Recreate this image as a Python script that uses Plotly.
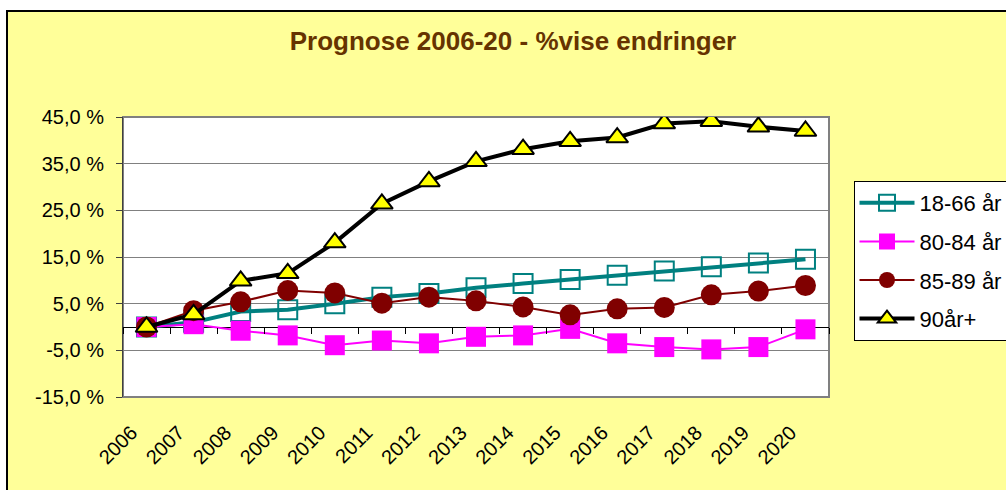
import plotly.graph_objects as go

years = ["2006", "2007", "2008", "2009", "2010", "2011", "2012", "2013",
         "2014", "2015", "2016", "2017", "2018", "2019", "2020"]
s_18_66 = [0.0, 1.0, 3.3, 3.7, 5.0, 6.4, 7.2, 8.4, 9.3, 10.2, 11.1, 12.0, 12.9, 13.7, 14.5]
s_80_84 = [0.0, 0.6, -0.8, -1.8, -3.9, -2.9, -3.5, -2.1, -1.8, -0.4, -3.5, -4.3, -4.8, -4.3, -0.5]
s_85_89 = [0.0, 3.5, 5.4, 7.8, 7.3, 5.1, 6.4, 5.6, 4.3, 2.6, 3.9, 4.2, 6.9, 7.7, 8.9]
s_90 = [0.0, 2.7, 9.9, 11.5, 18.1, 26.4, 31.2, 35.5, 38.1, 39.8, 40.6, 43.6, 44.1, 42.9, 42.0]
names = ["18-66 år", "80-84 år", "85-89 år", "90år+"]
ytick_vals = [-15, -5, 5, 15, 25, 35, 45]
ytick_text = ["-15,0 %", "-5,0 %", "5,0 %", "15,0 %", "25,0 %", "35,0 %", "45,0 %"]
title_text = "Prognose 2006-20 - %vise endringer"

FONT = "Liberation Sans, Arial, sans-serif"

fig = go.Figure()
fig.add_trace(go.Scatter(
    x=years, y=s_18_66, name=names[0], mode="lines+markers",
    line=dict(color="#008080", width=4),
    marker=dict(symbol="square-open", size=19, color="#008080", line=dict(width=2, color="#008080")),
    legendgroup="a"))
fig.add_trace(go.Scatter(
    x=years, y=s_80_84, name=names[1], mode="lines+markers",
    line=dict(color="#FF00FF", width=2),
    marker=dict(symbol="square", size=20, color="#FF00FF"),
    legendgroup="b"))
fig.add_trace(go.Scatter(
    x=years, y=s_85_89, name=names[2], mode="lines+markers",
    line=dict(color="#800000", width=2),
    marker=dict(symbol="circle", size=21, color="#800000"),
    legendgroup="c"))
fig.add_trace(go.Scatter(
    x=years, y=s_90, name=names[3], mode="lines+markers",
    line=dict(color="#000000", width=4),
    marker=dict(symbol="triangle-up", size=19, color="#FFFF00", line=dict(width=2, color="#000000")),
    legendgroup="d"))
# helper trace for category-boundary tick marks on the zero line
fig.add_trace(go.Scatter(x=years, y=[None] * len(years), xaxis="x2", showlegend=False,
                         hoverinfo="skip", mode="lines"))

W, H = 1006, 490
L, R, T, B = 123, 177, 117, 93
pw, ph = W - L - R, H - T - B

def px2x(px):
    return (px - L) / pw

def py2y(py):
    return (H - B - py) / ph

fig.update_layout(
    width=W, height=H,
    margin=dict(l=L, r=R, t=T, b=B, autoexpand=False),
    paper_bgcolor="white", plot_bgcolor="white",
    font=dict(family=FONT, size=20, color="black"),
    title=dict(text="<b>" + title_text + "</b>", x=513 / W, xanchor="center", xref="container",
               y=1 - 41 / H, yanchor="middle", yref="container",
               font=dict(family=FONT, size=26, color="#663300")),
    showlegend=True,
    legend=dict(x=px2x(853.5), y=py2y(181), xanchor="left", yanchor="top",
                bgcolor="white", bordercolor="black", borderwidth=1,
                font=dict(family=FONT, size=22, color="black"),
                itemwidth=55, tracegroupgap=7, traceorder="grouped"),
    xaxis=dict(type="category", categoryarray=years, range=[-0.5, 14.5], automargin=False,
               showgrid=False, zeroline=False, showline=False, ticks="",
               tickangle=-45, ticklabelstandoff=19, ticklabelshift=-15,
               tickfont=dict(family=FONT, size=20, color="black")),
    xaxis2=dict(type="category", categoryarray=years, range=[-0.5, 14.5], automargin=False,
                overlaying="x", anchor="free", position=py2y(326.7), side="bottom",
                showgrid=False, zeroline=False, showline=False, showticklabels=False,
                ticks="outside", ticklen=6, tickwidth=1, tickcolor="black", tickson="boundaries"),
    yaxis=dict(range=[-15, 45], tickvals=ytick_vals, ticktext=ytick_text, automargin=False,
               showgrid=True, gridcolor="#808080", gridwidth=1,
               zeroline=True, zerolinecolor="black", zerolinewidth=1,
               showline=True, linecolor="#404040", linewidth=1,
               ticks="outside", ticklen=6, tickcolor="#404040", ticklabelstandoff=8,
               tickfont=dict(family=FONT, size=20, color="black")),
    shapes=[
        dict(type="rect", xref="paper", yref="paper",
             x0=px2x(7), x1=px2x(1030), y0=py2y(510), y1=py2y(11),
             fillcolor="#FFFF99", line=dict(color="black", width=2), layer="below"),
        dict(type="rect", xref="paper", yref="paper", x0=0, x1=1, y0=0, y1=1,
             fillcolor="white", line=dict(color="#808080", width=2), layer="below"),
    ],
)

fig.write_html("out.html", config={"displayModeBar": False},
               post_script="document.body.style.margin='0';document.body.style.padding='0';")
